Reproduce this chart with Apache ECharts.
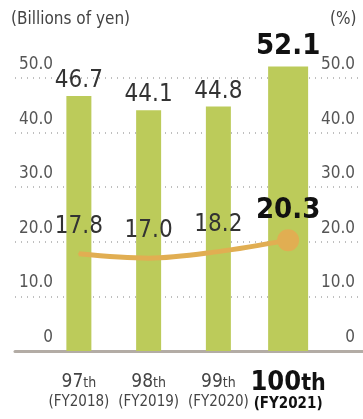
<!DOCTYPE html>
<html><head><meta charset="utf-8">
<script src="https://cdn.jsdelivr.net/npm/echarts@6/dist/echarts.min.js"></script>
<style>html,body{margin:0;padding:0;background:#fff}#c{width:363px;height:419px}</style>
</head><body><div id="c"></div>
<script>
const categories = ['97', '98', '99', '100'];
const fiscalYears = ['(FY2018)', '(FY2019)', '(FY2020)', '(FY2021)'];
const salesValues = [46.7, 44.1, 44.8, 52.1];
const ratioValues = [17.8, 17.0, 18.2, 20.3];
const yTicks = [0, 10, 20, 30, 40, 50];

const F = '"Liberation Sans Narrow", "DejaVu Sans Condensed", sans-serif';
const GREEN = '#bccb5a';
const GOLD = '#e1ae52';
const last = categories.length - 1;

const chart = echarts.init(document.getElementById('c'));
const yMin = yTicks[0], yMax = yTicks[yTicks.length - 1];

chart.setOption({
  animation: false,
  textStyle: { fontFamily: F },
  title: [
    { text: '(Billions of yen)', left: 6, top: 6, textStyle: { fontFamily: F, fontSize: 17, fontWeight: 'normal', color: '#444' } },
    { text: '(%)', left: 325, top: 6, textStyle: { fontFamily: F, fontSize: 17, fontWeight: 'normal', color: '#444' } }
  ],
  grid: [
    { left: 15, right: 0, top: 78, bottom: 68 },
    { left: 44, right: 40, top: 78, bottom: 68 }
  ],
  xAxis: [
    { type: 'category', gridIndex: 0, data: categories, axisLine: { show: true, lineStyle: { color: '#b3aca5', width: 3 } }, axisTick: { show: false }, axisLabel: { show: false }, splitLine: { show: false } },
    { type: 'category', gridIndex: 1, data: categories, axisLine: { show: false }, axisTick: { show: false },
      axisLabel: {
        interval: 0, margin: 20, fontFamily: F,
        formatter: (v, i) => i === last ? '{bn|' + v + '}{bs|th}\n{bf|' + fiscalYears[i] + '}' : '{n|' + v + '}{s|th}\n{f|' + fiscalYears[i] + '}',
        rich: {
          n: { fontFamily: F, fontSize: 19, color: '#444', lineHeight: 22 },
          s: { fontFamily: F, fontSize: 14, color: '#444', lineHeight: 22, padding: [3, 0, 0, 0] },
          f: { fontFamily: F, fontSize: 15, color: '#444', lineHeight: 18 },
          bn: { fontFamily: F, fontSize: 27, color: '#111', fontWeight: 'bold', lineHeight: 24 },
          bs: { fontFamily: F, fontSize: 23, color: '#111', fontWeight: 'bold', lineHeight: 24, padding: [2, 0, 0, 0] },
          bf: { fontFamily: F, fontSize: 15, color: '#111', fontWeight: 'bold', lineHeight: 18 }
        }
      } },
    { type: 'category', gridIndex: 1, data: categories, show: false }
  ],
  yAxis: [
    { type: 'value', gridIndex: 0, min: yMin, max: yMax, interval: 10, position: 'left',
      axisLine: { show: false }, axisTick: { show: false },
      splitLine: { show: true, lineStyle: { type: [1, 5], color: '#aaa', width: 1.5 } },
      axisLabel: { inside: true, margin: 38, align: 'right', verticalAlign: 'bottom', padding: [0, 0, 5, 0], fontFamily: F, fontSize: 17, color: '#555',
        formatter: v => v === 0 ? '0' : v.toFixed(1) } },
    { type: 'value', gridIndex: 0, min: yMin, max: yMax, interval: 10, position: 'right',
      axisLine: { show: false }, axisTick: { show: false }, splitLine: { show: false },
      axisLabel: { inside: true, margin: 8, verticalAlign: 'bottom', padding: [0, 0, 5, 0], fontFamily: F, fontSize: 17, color: '#555',
        formatter: v => v === 0 ? '0' : v.toFixed(1) } },
    { type: 'value', gridIndex: 1, min: yMin, max: yMax, interval: 10, show: false },
    { type: 'value', gridIndex: 1, min: yMin, max: yMax, interval: 10, show: false }
  ],
  series: [
    { type: 'bar', xAxisIndex: 1, yAxisIndex: 2, barWidth: 25, clip: false,
      data: salesValues.map((v, i) => i === last ? null : v),
      itemStyle: { color: GREEN },
      label: { show: true, position: 'top', distance: 3, fontFamily: F, fontSize: 24, color: '#333', formatter: p => p.value.toFixed(1) } },
    { type: 'bar', xAxisIndex: 2, yAxisIndex: 2, barWidth: 40, clip: false,
      data: salesValues.map((v, i) => i === last ? v : null),
      itemStyle: { color: GREEN },
      label: { show: true, position: 'top', distance: 6, fontFamily: F, fontSize: 29, fontWeight: 'bold', color: '#111', formatter: p => p.value.toFixed(1) } },
    { type: 'line', xAxisIndex: 1, yAxisIndex: 3, smooth: 0.35, clip: false, z: 5,
      lineStyle: { color: GOLD, width: 5 },
      itemStyle: { color: GOLD },
      data: ratioValues.map((v, i) => i === last
        ? { value: v, symbol: 'circle', symbolSize: 22, label: { fontSize: 29, fontWeight: 'bold', color: '#111', distance: 4 } }
        : { value: v, symbol: 'circle', symbolSize: 2 }),
      label: { show: true, position: 'top', distance: 14, fontFamily: F, fontSize: 24, color: '#333', formatter: p => p.value.toFixed(1) } }
  ]
});
</script></body></html>
